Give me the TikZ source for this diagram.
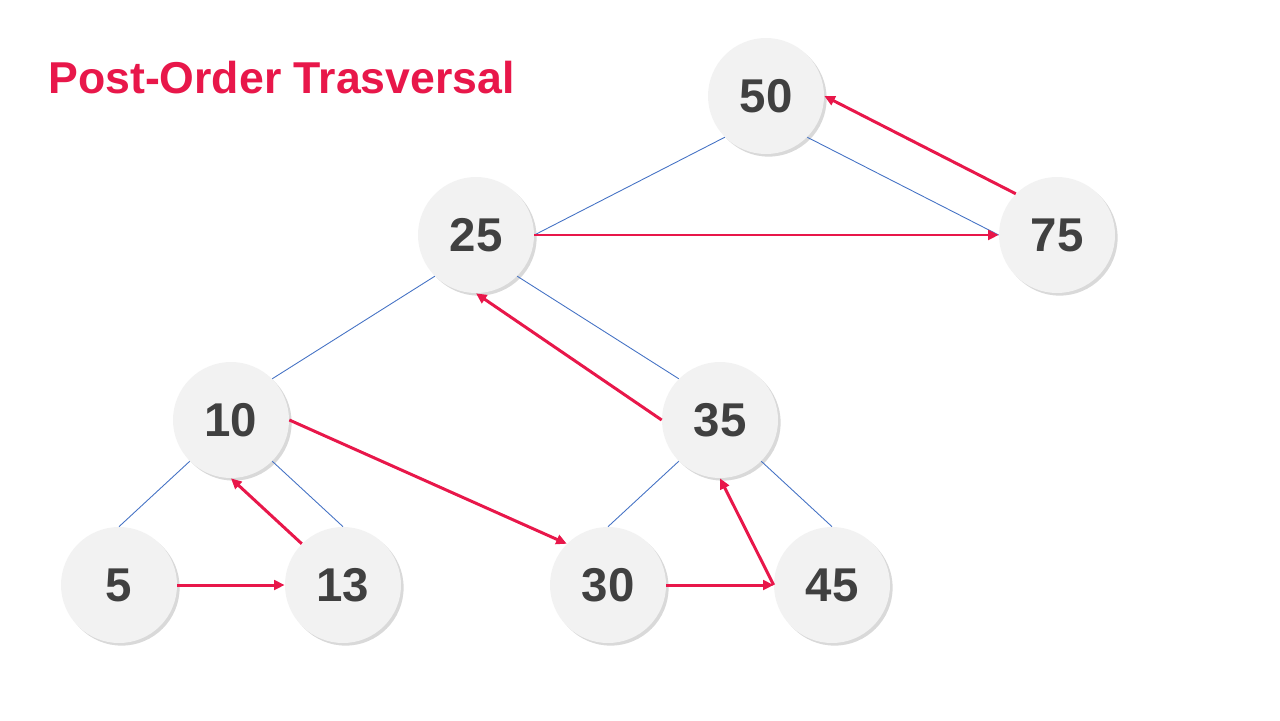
\documentclass[tikz,border=0pt]{standalone}
\usepackage{fontspec}
\setmainfont{Liberation Sans}
\usetikzlibrary{arrows.meta,shadows}

\definecolor{rojo}{HTML}{E8174A}
\definecolor{azul}{HTML}{4472C4}
\definecolor{gristexto}{HTML}{404040}
\definecolor{grisfondo}{HTML}{F2F2F2}

\tikzset{
	nodo/.style={circle, fill=grisfondo, minimum size=2.32cm, inner sep=0,
		drop shadow={shadow xshift=1.5pt, shadow yshift=-1.5pt, opacity=0.3, fill=gray},
		font=\fontsize{27}{27}\selectfont\bfseries, text=gristexto},
	rama/.style={azul, line width=0.5pt},
	recorrido/.style={rojo, line width=1.7pt, -{Triangle[length=6pt,width=5.5pt]}}
}

\begin{document}
\begin{tikzpicture}[x=0.02cm, y=-0.02cm]
		
		% Marco del dibujo (proporciones 1280x720)
		\useasboundingbox (0,0) rectangle (1280,720);
		
		% Titulo
		\node[anchor=base west, inner sep=0, text=rojo,
			font=\fontsize{25.4}{25.4}\selectfont\bfseries] (titulo) at (48,93) {Post-Order Trasversal};
		
		% Nodos del arbol
		\node[nodo] (n50) at (766,96) {50};
		\node[nodo] (n25) at (476,235) {25};
		\node[nodo] (n75) at (1057,235) {75};
		\node[nodo] (n10) at (231,420) {10};
		\node[nodo] (n35) at (720,420) {35};
		\node[nodo] (n5) at (119,585) {5};
		\node[nodo] (n13) at (343,585) {13};
		\node[nodo] (n30) at (608,585) {30};
		\node[nodo] (n45) at (832,585) {45};
		
		% Ramas del arbol (lineas finas azules)
		\draw[rama] (n50.225) -- (n25.east);
		\draw[rama] (n50.-45) -- (n75.west);
		\draw[rama] (n25.225) -- (n10.45);
		\draw[rama] (n25.-45) -- (n35.135);
		\draw[rama] (n10.225) -- (n5.north);
		\draw[rama] (n10.-45) -- (n13.north);
		\draw[rama] (n35.225) -- (n30.north);
		\draw[rama] (n35.-45) -- (n45.north);
		
		% Recorrido en post-orden (flechas rojas)
		\draw[recorrido] (n5.east) -- (n13.west);
		\draw[recorrido] (n13.135) -- (n10.south);
		\draw[recorrido] (n10.east) -- (n30.135);
		\draw[recorrido] (n30.east) -- (n45.west);
		\draw[recorrido] (n45.west) -- (n35.south);
		\draw[recorrido] (n35.west) -- (n25.south);
		\draw[recorrido] (n25.east) -- (n75.west);
		\draw[recorrido] (n75.135) -- (n50.east);
		
	\end{tikzpicture}
\end{document}
